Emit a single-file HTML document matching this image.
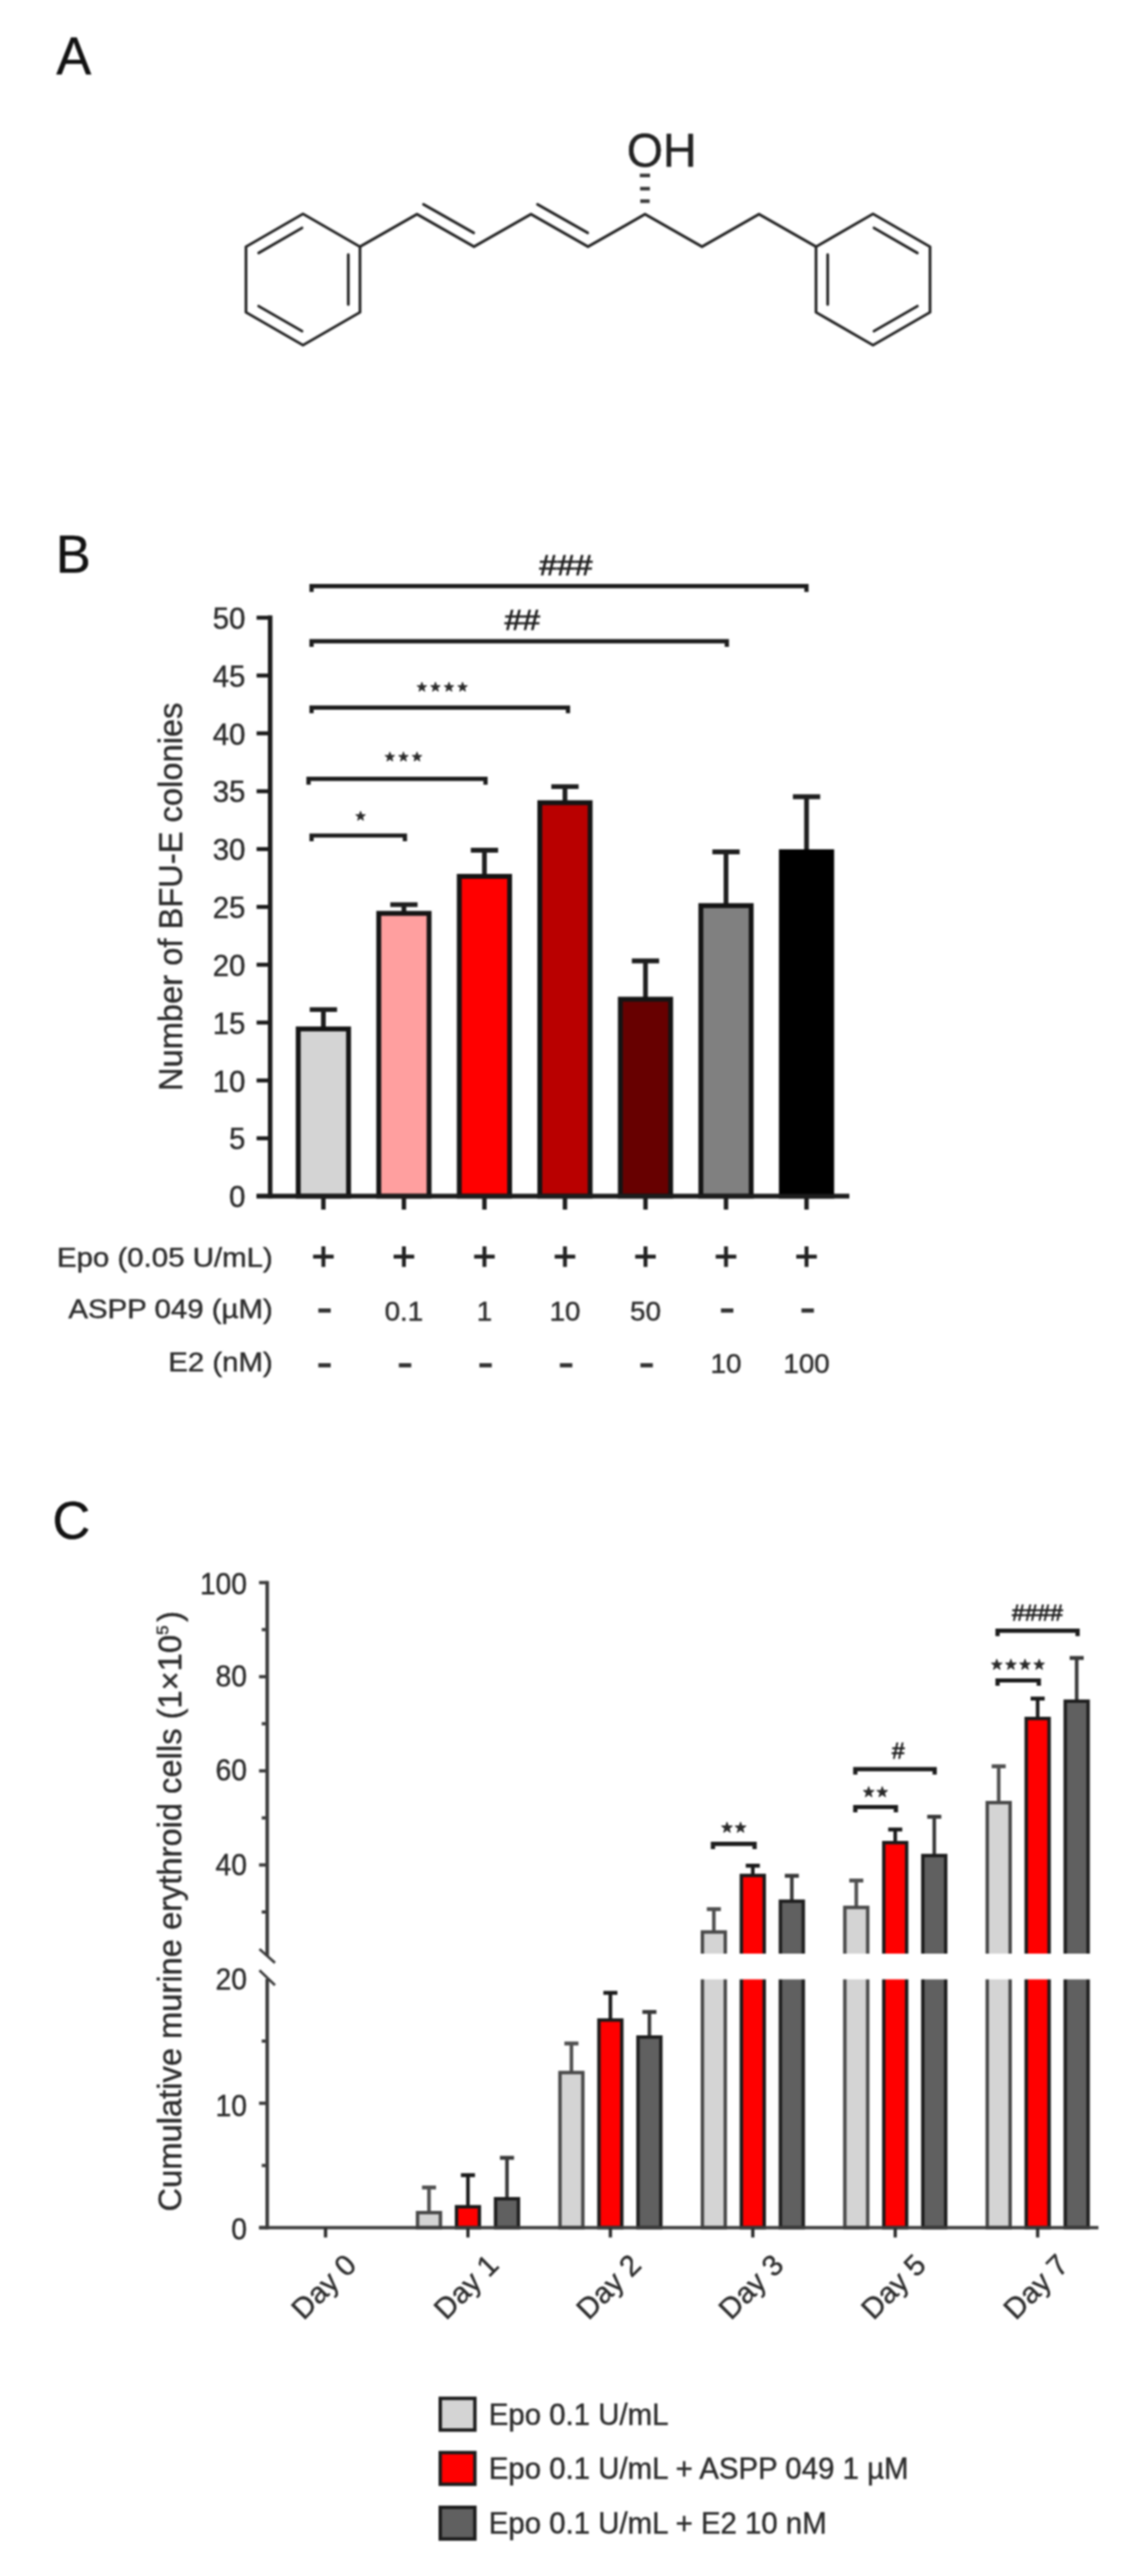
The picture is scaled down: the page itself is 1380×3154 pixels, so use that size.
<!DOCTYPE html>
<html lang="en">
<head>
<meta charset="utf-8">
<title>Figure: ASPP 049 structure and erythroid colony assays</title>
<style>
html,body{margin:0;padding:0;background:#fff;}
body{width:1380px;height:3154px;overflow:hidden;font-family:"Liberation Sans", sans-serif;}
svg{display:block;font-family:"Liberation Sans", sans-serif;filter:blur(1.2px);}
</style>
</head>
<body>
<svg width="1380" height="3154" viewBox="0 0 1380 3154">
<rect x="0" y="0" width="1380" height="3154" fill="#ffffff"/>
<text x="69.0" y="91.0" font-size="64" text-anchor="start" fill="#111" stroke="#111" stroke-width="0.5">A</text>
<text x="68.5" y="701.0" font-size="64" text-anchor="start" fill="#111" stroke="#111" stroke-width="0.5">B</text>
<text x="64.3" y="1884.2" font-size="64" text-anchor="start" fill="#111" stroke="#111" stroke-width="0.5">C</text>
<path d="M371.0,261.9 L440.8,302.1 L440.8,382.4 L371.0,422.6 L301.2,382.4 L301.2,302.1 Z" fill="none" stroke="#242424" stroke-width="3.4" stroke-linejoin="round"/>
<line x1="316.7" y1="309.7" x2="369.8" y2="279.1" stroke="#242424" stroke-width="3.4" stroke-linecap="round"/>
<line x1="426.5" y1="311.7" x2="426.5" y2="372.8" stroke="#242424" stroke-width="3.4" stroke-linecap="round"/>
<line x1="369.8" y1="405.4" x2="316.7" y2="374.9" stroke="#242424" stroke-width="3.4" stroke-linecap="round"/>
<path d="M1069.0,261.9 L1138.8,302.1 L1138.8,382.4 L1069.0,422.6 L999.2,382.4 L999.2,302.1 Z" fill="none" stroke="#242424" stroke-width="3.4" stroke-linejoin="round"/>
<line x1="1070.2" y1="279.1" x2="1123.3" y2="309.7" stroke="#242424" stroke-width="3.4" stroke-linecap="round"/>
<line x1="1013.5" y1="372.8" x2="1013.5" y2="311.7" stroke="#242424" stroke-width="3.4" stroke-linecap="round"/>
<line x1="1123.3" y1="374.9" x2="1070.2" y2="405.4" stroke="#242424" stroke-width="3.4" stroke-linecap="round"/>
<path d="M440.8,302.1 L510.6,262.3 L580.4,302.1 L650.2,262.3 L720.0,302.1 L789.8,262.3 L859.6,302.1 L929.4,262.3 L999.2,302.1" fill="none" stroke="#242424" stroke-width="3.4" stroke-linejoin="round" stroke-linecap="round"/>
<line x1="518.6" y1="250.2" x2="579.9" y2="285.1" stroke="#242424" stroke-width="3.4" stroke-linecap="round"/>
<line x1="658.2" y1="250.2" x2="719.5" y2="285.1" stroke="#242424" stroke-width="3.4" stroke-linecap="round"/>
<rect x="783.5" y="212.6" width="12.5" height="4.4" fill="#3a3a3a"/>
<rect x="783.8" y="228.8" width="12.0" height="4.4" fill="#3a3a3a"/>
<rect x="784.0" y="244.1" width="11.5" height="4.4" fill="#3a3a3a"/>
<text x="767.5" y="204.3" font-size="57" text-anchor="start" fill="#222" stroke="#222" stroke-width="0.5">OH</text>
<line x1="330.8" y1="753.6" x2="330.8" y2="1467.3" stroke="#1c1c1c" stroke-width="5.6" stroke-linecap="butt"/>
<line x1="314.2" y1="1464.5" x2="1040.0" y2="1464.5" stroke="#1c1c1c" stroke-width="5.6" stroke-linecap="butt"/>
<line x1="314.2" y1="1464.5" x2="330.8" y2="1464.5" stroke="#1c1c1c" stroke-width="4.9" stroke-linecap="butt"/>
<text transform="translate(300.5,1478.1) scale(1,1.04)" font-size="36" text-anchor="end" fill="#2c2c2c" stroke="#2c2c2c" stroke-width="0.5">0</text>
<line x1="314.2" y1="1393.7" x2="330.8" y2="1393.7" stroke="#1c1c1c" stroke-width="4.9" stroke-linecap="butt"/>
<text transform="translate(300.5,1407.3) scale(1,1.04)" font-size="36" text-anchor="end" fill="#2c2c2c" stroke="#2c2c2c" stroke-width="0.5">5</text>
<line x1="314.2" y1="1322.9" x2="330.8" y2="1322.9" stroke="#1c1c1c" stroke-width="4.9" stroke-linecap="butt"/>
<text transform="translate(300.5,1336.5) scale(1,1.04)" font-size="36" text-anchor="end" fill="#2c2c2c" stroke="#2c2c2c" stroke-width="0.5">10</text>
<line x1="314.2" y1="1252.0" x2="330.8" y2="1252.0" stroke="#1c1c1c" stroke-width="4.9" stroke-linecap="butt"/>
<text transform="translate(300.5,1265.6) scale(1,1.04)" font-size="36" text-anchor="end" fill="#2c2c2c" stroke="#2c2c2c" stroke-width="0.5">15</text>
<line x1="314.2" y1="1181.2" x2="330.8" y2="1181.2" stroke="#1c1c1c" stroke-width="4.9" stroke-linecap="butt"/>
<text transform="translate(300.5,1194.8) scale(1,1.04)" font-size="36" text-anchor="end" fill="#2c2c2c" stroke="#2c2c2c" stroke-width="0.5">20</text>
<line x1="314.2" y1="1110.4" x2="330.8" y2="1110.4" stroke="#1c1c1c" stroke-width="4.9" stroke-linecap="butt"/>
<text transform="translate(300.5,1124.0) scale(1,1.04)" font-size="36" text-anchor="end" fill="#2c2c2c" stroke="#2c2c2c" stroke-width="0.5">25</text>
<line x1="314.2" y1="1039.6" x2="330.8" y2="1039.6" stroke="#1c1c1c" stroke-width="4.9" stroke-linecap="butt"/>
<text transform="translate(300.5,1053.2) scale(1,1.04)" font-size="36" text-anchor="end" fill="#2c2c2c" stroke="#2c2c2c" stroke-width="0.5">30</text>
<line x1="314.2" y1="968.8" x2="330.8" y2="968.8" stroke="#1c1c1c" stroke-width="4.9" stroke-linecap="butt"/>
<text transform="translate(300.5,982.4) scale(1,1.04)" font-size="36" text-anchor="end" fill="#2c2c2c" stroke="#2c2c2c" stroke-width="0.5">35</text>
<line x1="314.2" y1="897.9" x2="330.8" y2="897.9" stroke="#1c1c1c" stroke-width="4.9" stroke-linecap="butt"/>
<text transform="translate(300.5,911.5) scale(1,1.04)" font-size="36" text-anchor="end" fill="#2c2c2c" stroke="#2c2c2c" stroke-width="0.5">40</text>
<line x1="314.2" y1="827.1" x2="330.8" y2="827.1" stroke="#1c1c1c" stroke-width="4.9" stroke-linecap="butt"/>
<text transform="translate(300.5,840.7) scale(1,1.04)" font-size="36" text-anchor="end" fill="#2c2c2c" stroke="#2c2c2c" stroke-width="0.5">45</text>
<line x1="314.2" y1="756.3" x2="330.8" y2="756.3" stroke="#1c1c1c" stroke-width="4.9" stroke-linecap="butt"/>
<text transform="translate(300.5,769.9) scale(1,1.04)" font-size="36" text-anchor="end" fill="#2c2c2c" stroke="#2c2c2c" stroke-width="0.5">50</text>
<line x1="396.0" y1="1236.2" x2="396.0" y2="1258.8" stroke="#1e1e1e" stroke-width="5.8" stroke-linecap="butt"/>
<line x1="379.3" y1="1236.2" x2="412.7" y2="1236.2" stroke="#1e1e1e" stroke-width="5.8" stroke-linecap="butt"/>
<rect x="365.2" y="1259.8" width="61.6" height="204.7" fill="#D4D4D4" stroke="#141414" stroke-width="6"/>
<line x1="396.0" y1="1464.5" x2="396.0" y2="1481.0" stroke="#1c1c1c" stroke-width="5.4" stroke-linecap="butt"/>
<line x1="494.6" y1="1107.7" x2="494.6" y2="1117.3" stroke="#1e1e1e" stroke-width="5.8" stroke-linecap="butt"/>
<line x1="477.9" y1="1107.7" x2="511.3" y2="1107.7" stroke="#1e1e1e" stroke-width="5.8" stroke-linecap="butt"/>
<rect x="463.8" y="1118.3" width="61.6" height="346.2" fill="#FF9F9F" stroke="#141414" stroke-width="6"/>
<line x1="494.6" y1="1464.5" x2="494.6" y2="1481.0" stroke="#1c1c1c" stroke-width="5.4" stroke-linecap="butt"/>
<line x1="593.2" y1="1041.0" x2="593.2" y2="1072.0" stroke="#1e1e1e" stroke-width="5.8" stroke-linecap="butt"/>
<line x1="576.5" y1="1041.0" x2="609.9" y2="1041.0" stroke="#1e1e1e" stroke-width="5.8" stroke-linecap="butt"/>
<rect x="562.4" y="1073.0" width="61.6" height="391.5" fill="#FF0000" stroke="#141414" stroke-width="6"/>
<line x1="593.2" y1="1464.5" x2="593.2" y2="1481.0" stroke="#1c1c1c" stroke-width="5.4" stroke-linecap="butt"/>
<line x1="691.8" y1="963.2" x2="691.8" y2="981.8" stroke="#1e1e1e" stroke-width="5.8" stroke-linecap="butt"/>
<line x1="675.1" y1="963.2" x2="708.5" y2="963.2" stroke="#1e1e1e" stroke-width="5.8" stroke-linecap="butt"/>
<rect x="661.0" y="982.8" width="61.6" height="481.7" fill="#B90000" stroke="#141414" stroke-width="6"/>
<line x1="691.8" y1="1464.5" x2="691.8" y2="1481.0" stroke="#1c1c1c" stroke-width="5.4" stroke-linecap="butt"/>
<line x1="790.4" y1="1176.5" x2="790.4" y2="1222.4" stroke="#1e1e1e" stroke-width="5.8" stroke-linecap="butt"/>
<line x1="773.7" y1="1176.5" x2="807.1" y2="1176.5" stroke="#1e1e1e" stroke-width="5.8" stroke-linecap="butt"/>
<rect x="759.6" y="1223.4" width="61.6" height="241.1" fill="#670000" stroke="#141414" stroke-width="6"/>
<line x1="790.4" y1="1464.5" x2="790.4" y2="1481.0" stroke="#1c1c1c" stroke-width="5.4" stroke-linecap="butt"/>
<line x1="889.0" y1="1043.0" x2="889.0" y2="1107.8" stroke="#1e1e1e" stroke-width="5.8" stroke-linecap="butt"/>
<line x1="872.3" y1="1043.0" x2="905.7" y2="1043.0" stroke="#1e1e1e" stroke-width="5.8" stroke-linecap="butt"/>
<rect x="858.2" y="1108.8" width="61.6" height="355.7" fill="#808080" stroke="#141414" stroke-width="6"/>
<line x1="889.0" y1="1464.5" x2="889.0" y2="1481.0" stroke="#1c1c1c" stroke-width="5.4" stroke-linecap="butt"/>
<line x1="987.6" y1="975.5" x2="987.6" y2="1041.9" stroke="#1e1e1e" stroke-width="5.8" stroke-linecap="butt"/>
<line x1="970.9" y1="975.5" x2="1004.3" y2="975.5" stroke="#1e1e1e" stroke-width="5.8" stroke-linecap="butt"/>
<rect x="956.8" y="1042.9" width="61.6" height="421.6" fill="#000000" stroke="#000" stroke-width="6"/>
<line x1="987.6" y1="1464.5" x2="987.6" y2="1481.0" stroke="#1c1c1c" stroke-width="5.4" stroke-linecap="butt"/>
<line x1="314.2" y1="1464.5" x2="1040.0" y2="1464.5" stroke="#1c1c1c" stroke-width="5.6" stroke-linecap="butt"/>
<path d="M381.5,724.7 L381.5,717.7 L987.5,717.7 L987.5,724.7" fill="none" stroke="#1c1c1c" stroke-width="5.2" stroke-linejoin="miter"/>
<text transform="translate(693.0,704.0) scale(1.08,1)" font-size="36" text-anchor="middle" fill="#202020" stroke="#202020" stroke-width="1.0">###</text>
<path d="M381.5,792.1 L381.5,785.1 L890.0,785.1 L890.0,792.1" fill="none" stroke="#1c1c1c" stroke-width="5.2" stroke-linejoin="miter"/>
<text transform="translate(639.5,771.0) scale(1.08,1)" font-size="36" text-anchor="middle" fill="#202020" stroke="#202020" stroke-width="1.0">##</text>
<path d="M381.5,873.3 L381.5,866.3 L695.5,866.3 L695.5,873.3" fill="none" stroke="#1c1c1c" stroke-width="5.2" stroke-linejoin="miter"/>
<polygon points="516.6,835.2 518.1,839.4 522.5,839.5 519.0,842.2 520.2,846.4 516.6,843.9 513.0,846.4 514.2,842.2 510.7,839.5 515.1,839.4" fill="#2a2a2a" stroke="#2a2a2a" stroke-width="1.0" stroke-linejoin="round"/>
<polygon points="533.2,835.2 534.7,839.4 539.1,839.5 535.6,842.2 536.8,846.4 533.2,843.9 529.6,846.4 530.8,842.2 527.3,839.5 531.7,839.4" fill="#2a2a2a" stroke="#2a2a2a" stroke-width="1.0" stroke-linejoin="round"/>
<polygon points="549.8,835.2 551.3,839.4 555.7,839.5 552.2,842.2 553.4,846.4 549.8,843.9 546.2,846.4 547.4,842.2 543.9,839.5 548.3,839.4" fill="#2a2a2a" stroke="#2a2a2a" stroke-width="1.0" stroke-linejoin="round"/>
<polygon points="566.4,835.2 567.9,839.4 572.3,839.5 568.8,842.2 570.0,846.4 566.4,843.9 562.8,846.4 564.0,842.2 560.5,839.5 564.9,839.4" fill="#2a2a2a" stroke="#2a2a2a" stroke-width="1.0" stroke-linejoin="round"/>
<path d="M377.8,960.7 L377.8,953.7 L594.5,953.7 L594.5,960.7" fill="none" stroke="#1c1c1c" stroke-width="5.2" stroke-linejoin="miter"/>
<polygon points="477.4,920.7 478.9,924.9 483.3,925.0 479.8,927.7 481.0,931.9 477.4,929.4 473.8,931.9 475.0,927.7 471.5,925.0 475.9,924.9" fill="#2a2a2a" stroke="#2a2a2a" stroke-width="1.0" stroke-linejoin="round"/>
<polygon points="494.0,920.7 495.5,924.9 499.9,925.0 496.4,927.7 497.6,931.9 494.0,929.4 490.4,931.9 491.6,927.7 488.1,925.0 492.5,924.9" fill="#2a2a2a" stroke="#2a2a2a" stroke-width="1.0" stroke-linejoin="round"/>
<polygon points="510.6,920.7 512.1,924.9 516.5,925.0 513.0,927.7 514.2,931.9 510.6,929.4 507.0,931.9 508.2,927.7 504.7,925.0 509.1,924.9" fill="#2a2a2a" stroke="#2a2a2a" stroke-width="1.0" stroke-linejoin="round"/>
<path d="M381.5,1030.0 L381.5,1023.0 L495.8,1023.0 L495.8,1030.0" fill="none" stroke="#1c1c1c" stroke-width="5.2" stroke-linejoin="miter"/>
<polygon points="441.5,993.2 443.0,997.4 447.4,997.5 443.9,1000.2 445.1,1004.4 441.5,1001.9 437.9,1004.4 439.1,1000.2 435.6,997.5 440.0,997.4" fill="#2a2a2a" stroke="#2a2a2a" stroke-width="1.0" stroke-linejoin="round"/>
<text transform="translate(222.5,1098) rotate(-90)" font-size="40" text-anchor="middle" fill="#2c2c2c" stroke="#2c2c2c" stroke-width="0.5">Number of BFU-E colonies</text>
<text transform="translate(334.0,1551.3) scale(1.06,1)" font-size="34" text-anchor="end" fill="#2c2c2c" stroke="#2c2c2c" stroke-width="0.5">Epo (0.05 U/mL)</text>
<text transform="translate(334.0,1614.0) scale(1.06,1)" font-size="34" text-anchor="end" fill="#2c2c2c" stroke="#2c2c2c" stroke-width="0.5">ASPP 049 (µM)</text>
<text transform="translate(334.0,1679.0) scale(1.06,1)" font-size="34" text-anchor="end" fill="#2c2c2c" stroke="#2c2c2c" stroke-width="0.5">E2 (nM)</text>
<line x1="383.4" y1="1538.6" x2="408.6" y2="1538.6" stroke="#222" stroke-width="4.8" stroke-linecap="butt"/>
<line x1="396.0" y1="1526.0" x2="396.0" y2="1551.2" stroke="#222" stroke-width="4.8" stroke-linecap="butt"/>
<line x1="389.8" y1="1604.6" x2="405.0" y2="1604.6" stroke="#333" stroke-width="5.2" stroke-linecap="butt"/>
<line x1="389.8" y1="1671.6" x2="405.0" y2="1671.6" stroke="#333" stroke-width="5.2" stroke-linecap="butt"/>
<line x1="482.0" y1="1538.6" x2="507.2" y2="1538.6" stroke="#222" stroke-width="4.8" stroke-linecap="butt"/>
<line x1="494.6" y1="1526.0" x2="494.6" y2="1551.2" stroke="#222" stroke-width="4.8" stroke-linecap="butt"/>
<text x="494.6" y="1617.3" font-size="34" text-anchor="middle" fill="#2c2c2c" stroke="#2c2c2c" stroke-width="0.5">0.1</text>
<line x1="488.4" y1="1671.6" x2="503.6" y2="1671.6" stroke="#333" stroke-width="5.2" stroke-linecap="butt"/>
<line x1="580.6" y1="1538.6" x2="605.8" y2="1538.6" stroke="#222" stroke-width="4.8" stroke-linecap="butt"/>
<line x1="593.2" y1="1526.0" x2="593.2" y2="1551.2" stroke="#222" stroke-width="4.8" stroke-linecap="butt"/>
<text x="593.2" y="1617.3" font-size="34" text-anchor="middle" fill="#2c2c2c" stroke="#2c2c2c" stroke-width="0.5">1</text>
<line x1="587.0" y1="1671.6" x2="602.2" y2="1671.6" stroke="#333" stroke-width="5.2" stroke-linecap="butt"/>
<line x1="679.2" y1="1538.6" x2="704.4" y2="1538.6" stroke="#222" stroke-width="4.8" stroke-linecap="butt"/>
<line x1="691.8" y1="1526.0" x2="691.8" y2="1551.2" stroke="#222" stroke-width="4.8" stroke-linecap="butt"/>
<text x="691.8" y="1617.3" font-size="34" text-anchor="middle" fill="#2c2c2c" stroke="#2c2c2c" stroke-width="0.5">10</text>
<line x1="685.6" y1="1671.6" x2="700.8" y2="1671.6" stroke="#333" stroke-width="5.2" stroke-linecap="butt"/>
<line x1="777.8" y1="1538.6" x2="803.0" y2="1538.6" stroke="#222" stroke-width="4.8" stroke-linecap="butt"/>
<line x1="790.4" y1="1526.0" x2="790.4" y2="1551.2" stroke="#222" stroke-width="4.8" stroke-linecap="butt"/>
<text x="790.4" y="1617.3" font-size="34" text-anchor="middle" fill="#2c2c2c" stroke="#2c2c2c" stroke-width="0.5">50</text>
<line x1="784.2" y1="1671.6" x2="799.4" y2="1671.6" stroke="#333" stroke-width="5.2" stroke-linecap="butt"/>
<line x1="876.4" y1="1538.6" x2="901.6" y2="1538.6" stroke="#222" stroke-width="4.8" stroke-linecap="butt"/>
<line x1="889.0" y1="1526.0" x2="889.0" y2="1551.2" stroke="#222" stroke-width="4.8" stroke-linecap="butt"/>
<line x1="882.8" y1="1604.6" x2="898.0" y2="1604.6" stroke="#333" stroke-width="5.2" stroke-linecap="butt"/>
<text x="889.0" y="1681.3" font-size="34" text-anchor="middle" fill="#2c2c2c" stroke="#2c2c2c" stroke-width="0.5">10</text>
<line x1="975.0" y1="1538.6" x2="1000.2" y2="1538.6" stroke="#222" stroke-width="4.8" stroke-linecap="butt"/>
<line x1="987.6" y1="1526.0" x2="987.6" y2="1551.2" stroke="#222" stroke-width="4.8" stroke-linecap="butt"/>
<line x1="981.4" y1="1604.6" x2="996.6" y2="1604.6" stroke="#333" stroke-width="5.2" stroke-linecap="butt"/>
<text x="987.6" y="1681.3" font-size="34" text-anchor="middle" fill="#2c2c2c" stroke="#2c2c2c" stroke-width="0.5">100</text>
<line x1="327.2" y1="1935.7" x2="327.2" y2="2395.0" stroke="#3c3c3c" stroke-width="4.4" stroke-linecap="butt"/>
<line x1="327.2" y1="2423.0" x2="327.2" y2="2729.5" stroke="#3c3c3c" stroke-width="4.4" stroke-linecap="butt"/>
<line x1="317.7" y1="2386.4" x2="336.7" y2="2403.2" stroke="#3c3c3c" stroke-width="3.2" stroke-linecap="butt"/>
<line x1="317.7" y1="2412.3" x2="336.7" y2="2430.7" stroke="#3c3c3c" stroke-width="3.2" stroke-linecap="butt"/>
<line x1="317.2" y1="1937.7" x2="327.2" y2="1937.7" stroke="#3c3c3c" stroke-width="4" stroke-linecap="butt"/>
<text transform="translate(302.3,1951.7) scale(0.955,1.03)" font-size="36" text-anchor="end" fill="#2c2c2c" stroke="#2c2c2c" stroke-width="0.5">100</text>
<line x1="317.2" y1="2052.9" x2="327.2" y2="2052.9" stroke="#3c3c3c" stroke-width="4" stroke-linecap="butt"/>
<text transform="translate(302.3,2064.9) scale(0.955,1.03)" font-size="36" text-anchor="end" fill="#2c2c2c" stroke="#2c2c2c" stroke-width="0.5">80</text>
<line x1="317.2" y1="2168.2" x2="327.2" y2="2168.2" stroke="#3c3c3c" stroke-width="4" stroke-linecap="butt"/>
<text transform="translate(302.3,2180.2) scale(0.955,1.03)" font-size="36" text-anchor="end" fill="#2c2c2c" stroke="#2c2c2c" stroke-width="0.5">60</text>
<line x1="317.2" y1="2283.4" x2="327.2" y2="2283.4" stroke="#3c3c3c" stroke-width="4" stroke-linecap="butt"/>
<text transform="translate(302.3,2296.4) scale(0.955,1.03)" font-size="36" text-anchor="end" fill="#2c2c2c" stroke="#2c2c2c" stroke-width="0.5">40</text>
<line x1="320.5" y1="1995.3" x2="327.2" y2="1995.3" stroke="#3c3c3c" stroke-width="4" stroke-linecap="butt"/>
<line x1="320.5" y1="2110.5" x2="327.2" y2="2110.5" stroke="#3c3c3c" stroke-width="4" stroke-linecap="butt"/>
<line x1="320.5" y1="2225.8" x2="327.2" y2="2225.8" stroke="#3c3c3c" stroke-width="4" stroke-linecap="butt"/>
<line x1="320.5" y1="2341.0" x2="327.2" y2="2341.0" stroke="#3c3c3c" stroke-width="4" stroke-linecap="butt"/>
<text transform="translate(302.3,2436.0) scale(0.955,1.03)" font-size="36" text-anchor="end" fill="#2c2c2c" stroke="#2c2c2c" stroke-width="0.5">20</text>
<line x1="317.2" y1="2575.2" x2="327.2" y2="2575.2" stroke="#3c3c3c" stroke-width="4" stroke-linecap="butt"/>
<text transform="translate(302.3,2591.2) scale(0.955,1.03)" font-size="36" text-anchor="end" fill="#2c2c2c" stroke="#2c2c2c" stroke-width="0.5">10</text>
<line x1="317.2" y1="2727.5" x2="327.2" y2="2727.5" stroke="#3c3c3c" stroke-width="4" stroke-linecap="butt"/>
<text transform="translate(302.3,2741.5) scale(0.955,1.03)" font-size="36" text-anchor="end" fill="#2c2c2c" stroke="#2c2c2c" stroke-width="0.5">0</text>
<line x1="320.5" y1="2499.1" x2="327.2" y2="2499.1" stroke="#3c3c3c" stroke-width="4" stroke-linecap="butt"/>
<line x1="320.5" y1="2651.4" x2="327.2" y2="2651.4" stroke="#3c3c3c" stroke-width="4" stroke-linecap="butt"/>
<line x1="525.3" y1="2678.3" x2="525.3" y2="2708.5" stroke="#505050" stroke-width="4.4" stroke-linecap="butt"/>
<line x1="516.7" y1="2678.3" x2="533.9" y2="2678.3" stroke="#505050" stroke-width="4.8" stroke-linecap="butt"/>
<rect x="511.3" y="2709.1" width="28.0" height="18.4" fill="#D4D4D4" stroke="#484848" stroke-width="4.2"/>
<line x1="573.0" y1="2663.2" x2="573.0" y2="2701.3" stroke="#1a1a1a" stroke-width="4.4" stroke-linecap="butt"/>
<line x1="564.4" y1="2663.2" x2="581.6" y2="2663.2" stroke="#1a1a1a" stroke-width="4.8" stroke-linecap="butt"/>
<rect x="559.0" y="2701.9" width="28.0" height="25.6" fill="#FF0000" stroke="#1a1a1a" stroke-width="4.2"/>
<line x1="620.8" y1="2642.0" x2="620.8" y2="2691.5" stroke="#383838" stroke-width="4.4" stroke-linecap="butt"/>
<line x1="612.2" y1="2642.0" x2="629.4" y2="2642.0" stroke="#383838" stroke-width="4.8" stroke-linecap="butt"/>
<rect x="606.8" y="2692.1" width="28.0" height="35.4" fill="#606060" stroke="#1e1e1e" stroke-width="4.2"/>
<line x1="699.7" y1="2502.0" x2="699.7" y2="2537.0" stroke="#505050" stroke-width="4.4" stroke-linecap="butt"/>
<line x1="691.1" y1="2502.0" x2="708.3" y2="2502.0" stroke="#505050" stroke-width="4.8" stroke-linecap="butt"/>
<rect x="685.7" y="2537.6" width="28.0" height="189.9" fill="#D4D4D4" stroke="#484848" stroke-width="4.2"/>
<line x1="747.4" y1="2440.0" x2="747.4" y2="2472.7" stroke="#1a1a1a" stroke-width="4.4" stroke-linecap="butt"/>
<line x1="738.8" y1="2440.0" x2="756.0" y2="2440.0" stroke="#1a1a1a" stroke-width="4.8" stroke-linecap="butt"/>
<rect x="733.4" y="2473.3" width="28.0" height="254.2" fill="#FF0000" stroke="#1a1a1a" stroke-width="4.2"/>
<line x1="795.2" y1="2463.4" x2="795.2" y2="2493.5" stroke="#383838" stroke-width="4.4" stroke-linecap="butt"/>
<line x1="786.6" y1="2463.4" x2="803.8" y2="2463.4" stroke="#383838" stroke-width="4.8" stroke-linecap="butt"/>
<rect x="781.2" y="2494.1" width="28.0" height="233.4" fill="#606060" stroke="#1e1e1e" stroke-width="4.2"/>
<line x1="874.1" y1="2337.5" x2="874.1" y2="2364.9" stroke="#505050" stroke-width="4.4" stroke-linecap="butt"/>
<line x1="865.5" y1="2337.5" x2="882.7" y2="2337.5" stroke="#505050" stroke-width="4.8" stroke-linecap="butt"/>
<rect x="860.1" y="2365.5" width="28.0" height="362.0" fill="#D4D4D4" stroke="#484848" stroke-width="4.2"/>
<line x1="921.8" y1="2284.3" x2="921.8" y2="2295.7" stroke="#1a1a1a" stroke-width="4.4" stroke-linecap="butt"/>
<line x1="913.2" y1="2284.3" x2="930.4" y2="2284.3" stroke="#1a1a1a" stroke-width="4.8" stroke-linecap="butt"/>
<rect x="907.8" y="2296.3" width="28.0" height="431.2" fill="#FF0000" stroke="#1a1a1a" stroke-width="4.2"/>
<line x1="969.6" y1="2296.7" x2="969.6" y2="2327.2" stroke="#383838" stroke-width="4.4" stroke-linecap="butt"/>
<line x1="961.0" y1="2296.7" x2="978.2" y2="2296.7" stroke="#383838" stroke-width="4.8" stroke-linecap="butt"/>
<rect x="955.6" y="2327.8" width="28.0" height="399.7" fill="#606060" stroke="#1e1e1e" stroke-width="4.2"/>
<line x1="1048.5" y1="2302.5" x2="1048.5" y2="2334.8" stroke="#505050" stroke-width="4.4" stroke-linecap="butt"/>
<line x1="1039.9" y1="2302.5" x2="1057.1" y2="2302.5" stroke="#505050" stroke-width="4.8" stroke-linecap="butt"/>
<rect x="1034.5" y="2335.4" width="28.0" height="392.1" fill="#D4D4D4" stroke="#484848" stroke-width="4.2"/>
<line x1="1096.2" y1="2240.0" x2="1096.2" y2="2255.5" stroke="#1a1a1a" stroke-width="4.4" stroke-linecap="butt"/>
<line x1="1087.6" y1="2240.0" x2="1104.8" y2="2240.0" stroke="#1a1a1a" stroke-width="4.8" stroke-linecap="butt"/>
<rect x="1082.2" y="2256.1" width="28.0" height="471.4" fill="#FF0000" stroke="#1a1a1a" stroke-width="4.2"/>
<line x1="1144.0" y1="2224.4" x2="1144.0" y2="2271.3" stroke="#383838" stroke-width="4.4" stroke-linecap="butt"/>
<line x1="1135.4" y1="2224.4" x2="1152.6" y2="2224.4" stroke="#383838" stroke-width="4.8" stroke-linecap="butt"/>
<rect x="1130.0" y="2271.9" width="28.0" height="455.6" fill="#606060" stroke="#1e1e1e" stroke-width="4.2"/>
<line x1="1222.9" y1="2162.6" x2="1222.9" y2="2206.5" stroke="#505050" stroke-width="4.4" stroke-linecap="butt"/>
<line x1="1214.3" y1="2162.6" x2="1231.5" y2="2162.6" stroke="#505050" stroke-width="4.8" stroke-linecap="butt"/>
<rect x="1208.9" y="2207.1" width="28.0" height="520.4" fill="#D4D4D4" stroke="#484848" stroke-width="4.2"/>
<line x1="1270.6" y1="2079.7" x2="1270.6" y2="2103.5" stroke="#1a1a1a" stroke-width="4.4" stroke-linecap="butt"/>
<line x1="1262.0" y1="2079.7" x2="1279.2" y2="2079.7" stroke="#1a1a1a" stroke-width="4.8" stroke-linecap="butt"/>
<rect x="1256.6" y="2104.1" width="28.0" height="623.4" fill="#FF0000" stroke="#1a1a1a" stroke-width="4.2"/>
<line x1="1318.4" y1="2030.0" x2="1318.4" y2="2082.3" stroke="#383838" stroke-width="4.4" stroke-linecap="butt"/>
<line x1="1309.8" y1="2030.0" x2="1327.0" y2="2030.0" stroke="#383838" stroke-width="4.8" stroke-linecap="butt"/>
<rect x="1304.4" y="2082.9" width="28.0" height="644.6" fill="#606060" stroke="#1e1e1e" stroke-width="4.2"/>
<rect x="345.0" y="2392.0" width="1035.0" height="31.5" fill="#fff"/>
<line x1="317.2" y1="2727.5" x2="1345.0" y2="2727.5" stroke="#3c3c3c" stroke-width="4" stroke-linecap="butt"/>
<line x1="398.6" y1="2727.5" x2="398.6" y2="2739.5" stroke="#2a2a2a" stroke-width="4" stroke-linecap="butt"/>
<text transform="translate(405.1,2808.5) rotate(-45)" font-size="36" text-anchor="middle" fill="#2c2c2c" stroke="#2c2c2c" stroke-width="0.5">Day 0</text>
<line x1="573.0" y1="2727.5" x2="573.0" y2="2739.5" stroke="#2a2a2a" stroke-width="4" stroke-linecap="butt"/>
<text transform="translate(579.5,2808.5) rotate(-45)" font-size="36" text-anchor="middle" fill="#2c2c2c" stroke="#2c2c2c" stroke-width="0.5">Day 1</text>
<line x1="747.4" y1="2727.5" x2="747.4" y2="2739.5" stroke="#2a2a2a" stroke-width="4" stroke-linecap="butt"/>
<text transform="translate(753.9,2808.5) rotate(-45)" font-size="36" text-anchor="middle" fill="#2c2c2c" stroke="#2c2c2c" stroke-width="0.5">Day 2</text>
<line x1="921.8" y1="2727.5" x2="921.8" y2="2739.5" stroke="#2a2a2a" stroke-width="4" stroke-linecap="butt"/>
<text transform="translate(928.3,2808.5) rotate(-45)" font-size="36" text-anchor="middle" fill="#2c2c2c" stroke="#2c2c2c" stroke-width="0.5">Day 3</text>
<line x1="1096.2" y1="2727.5" x2="1096.2" y2="2739.5" stroke="#2a2a2a" stroke-width="4" stroke-linecap="butt"/>
<text transform="translate(1102.7,2808.5) rotate(-45)" font-size="36" text-anchor="middle" fill="#2c2c2c" stroke="#2c2c2c" stroke-width="0.5">Day 5</text>
<line x1="1270.6" y1="2727.5" x2="1270.6" y2="2739.5" stroke="#2a2a2a" stroke-width="4" stroke-linecap="butt"/>
<text transform="translate(1277.1,2808.5) rotate(-45)" font-size="36" text-anchor="middle" fill="#2c2c2c" stroke="#2c2c2c" stroke-width="0.5">Day 7</text>
<path d="M873.0,2264.1 L873.0,2257.6 L924.0,2257.6 L924.0,2264.1" fill="none" stroke="#1c1c1c" stroke-width="5.2" stroke-linejoin="miter"/>
<polygon points="890.2,2230.9 891.8,2235.6 896.9,2235.7 892.9,2238.8 894.3,2243.6 890.2,2240.7 886.1,2243.6 887.5,2238.8 883.5,2235.7 888.6,2235.6" fill="#2a2a2a" stroke="#2a2a2a" stroke-width="1.0" stroke-linejoin="round"/>
<polygon points="906.8,2230.9 908.4,2235.6 913.5,2235.7 909.5,2238.8 910.9,2243.6 906.8,2240.7 902.7,2243.6 904.1,2238.8 900.1,2235.7 905.2,2235.6" fill="#2a2a2a" stroke="#2a2a2a" stroke-width="1.0" stroke-linejoin="round"/>
<path d="M1047.3,2219.0 L1047.3,2212.5 L1097.0,2212.5 L1097.0,2219.0" fill="none" stroke="#1c1c1c" stroke-width="5.2" stroke-linejoin="miter"/>
<polygon points="1063.7,2187.4 1065.3,2192.1 1070.4,2192.2 1066.4,2195.3 1067.8,2200.1 1063.7,2197.2 1059.6,2200.1 1061.0,2195.3 1057.0,2192.2 1062.1,2192.1" fill="#2a2a2a" stroke="#2a2a2a" stroke-width="1.0" stroke-linejoin="round"/>
<polygon points="1080.3,2187.4 1081.9,2192.1 1087.0,2192.2 1083.0,2195.3 1084.4,2200.1 1080.3,2197.2 1076.2,2200.1 1077.6,2195.3 1073.6,2192.2 1078.7,2192.1" fill="#2a2a2a" stroke="#2a2a2a" stroke-width="1.0" stroke-linejoin="round"/>
<path d="M1047.3,2172.7 L1047.3,2166.2 L1144.5,2166.2 L1144.5,2172.7" fill="none" stroke="#1c1c1c" stroke-width="5.2" stroke-linejoin="miter"/>
<text x="1099.5" y="2153.0" font-size="28" text-anchor="middle" fill="#202020" stroke="#202020" stroke-width="0.9" font-style="italic">#</text>
<path d="M1221.5,2064.0 L1221.5,2057.5 L1272.0,2057.5 L1272.0,2064.0" fill="none" stroke="#1c1c1c" stroke-width="5.2" stroke-linejoin="miter"/>
<polygon points="1220.5,2031.4 1222.2,2036.1 1227.2,2036.2 1223.2,2039.3 1224.7,2044.1 1220.5,2041.2 1216.4,2044.1 1217.9,2039.3 1213.9,2036.2 1218.9,2036.1" fill="#2a2a2a" stroke="#2a2a2a" stroke-width="1.0" stroke-linejoin="round"/>
<polygon points="1237.8,2031.4 1239.5,2036.1 1244.5,2036.2 1240.5,2039.3 1242.0,2044.1 1237.8,2041.2 1233.7,2044.1 1235.2,2039.3 1231.2,2036.2 1236.2,2036.1" fill="#2a2a2a" stroke="#2a2a2a" stroke-width="1.0" stroke-linejoin="round"/>
<polygon points="1255.1,2031.4 1256.8,2036.1 1261.8,2036.2 1257.8,2039.3 1259.3,2044.1 1255.1,2041.2 1251.0,2044.1 1252.5,2039.3 1248.5,2036.2 1253.5,2036.1" fill="#2a2a2a" stroke="#2a2a2a" stroke-width="1.0" stroke-linejoin="round"/>
<polygon points="1272.5,2031.4 1274.1,2036.1 1279.1,2036.2 1275.1,2039.3 1276.6,2044.1 1272.5,2041.2 1268.3,2044.1 1269.8,2039.3 1265.8,2036.2 1270.8,2036.1" fill="#2a2a2a" stroke="#2a2a2a" stroke-width="1.0" stroke-linejoin="round"/>
<path d="M1221.5,2003.2 L1221.5,1996.7 L1319.5,1996.7 L1319.5,2003.2" fill="none" stroke="#1c1c1c" stroke-width="5.2" stroke-linejoin="miter"/>
<text x="1270.0" y="1984.0" font-size="28" text-anchor="middle" fill="#202020" stroke="#202020" stroke-width="0.9" font-style="italic">####</text>
<text transform="translate(221.5,2340) rotate(-90)" font-size="40" text-anchor="middle" fill="#2c2c2c" stroke="#2c2c2c" stroke-width="0.5">Cumulative murine erythroid cells (1×10<tspan font-size="21" dy="-16">5</tspan><tspan dy="16" dx="4.5">)</tspan></text>
<rect x="539.1" y="2936.5" width="42.4" height="38.8" fill="#D4D4D4" stroke="#1c1c1c" stroke-width="4.2"/>
<text x="598.4" y="2968.5" font-size="36" text-anchor="start" fill="#2c2c2c" stroke="#2c2c2c" stroke-width="0.5">Epo 0.1 U/mL</text>
<rect x="539.1" y="3002.9" width="42.4" height="38.8" fill="#FF0000" stroke="#1c1c1c" stroke-width="4.2"/>
<text x="598.4" y="3034.9" font-size="36" text-anchor="start" fill="#2c2c2c" stroke="#2c2c2c" stroke-width="0.5">Epo 0.1 U/mL + ASPP 049 1 µM</text>
<rect x="539.1" y="3069.9" width="42.4" height="38.8" fill="#606060" stroke="#1c1c1c" stroke-width="4.2"/>
<text x="598.4" y="3101.9" font-size="36" text-anchor="start" fill="#2c2c2c" stroke="#2c2c2c" stroke-width="0.5">Epo 0.1 U/mL + E2 10 nM</text>
</svg>
</body>
</html>
